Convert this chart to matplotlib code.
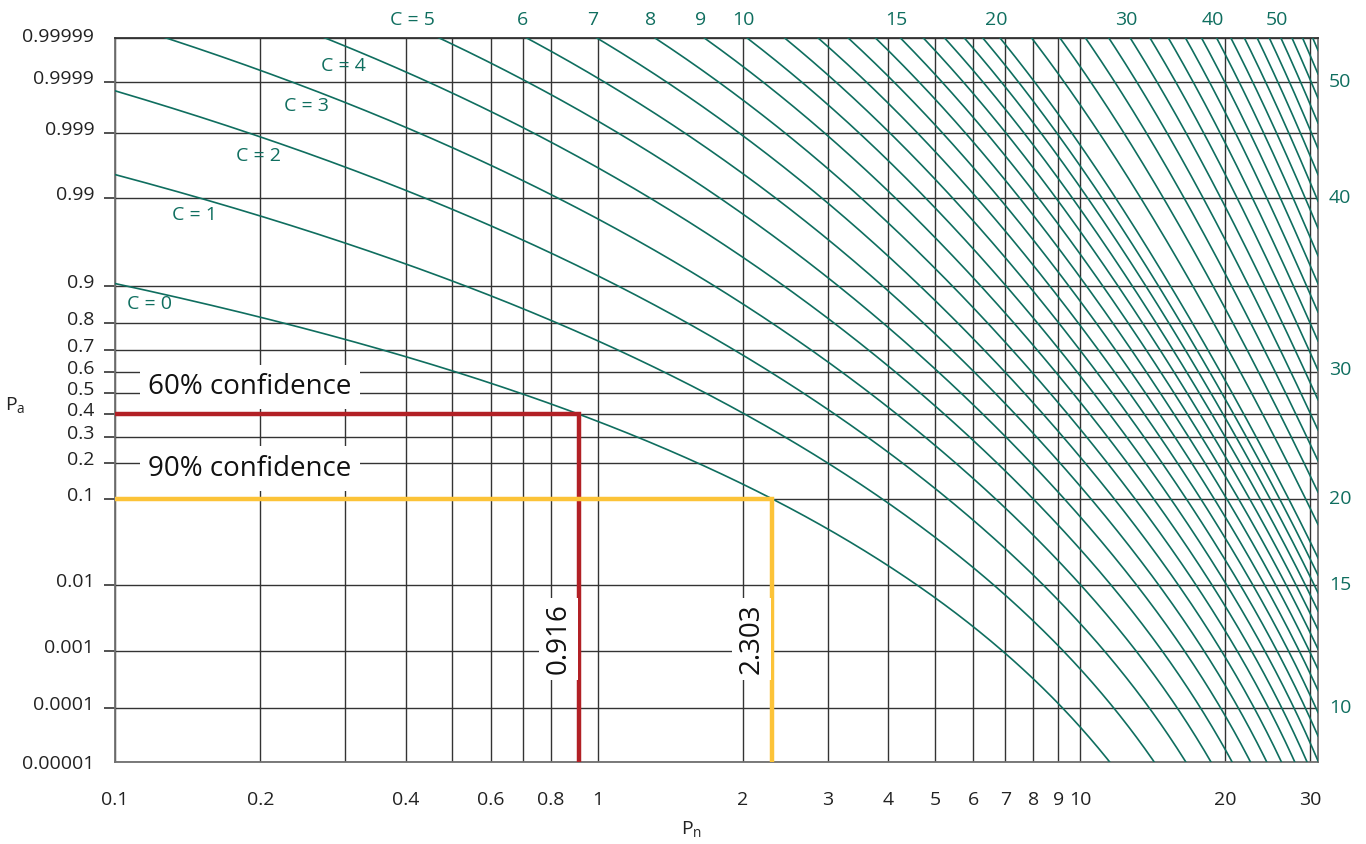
import math
import numpy as np
import matplotlib
matplotlib.use("Agg")
import matplotlib.pyplot as plt
import matplotlib.transforms as mtransforms
from matplotlib.ticker import FixedLocator, FixedFormatter, NullFormatter

plt.rcParams["font.family"] = ["Open Sans", "DejaVu Sans"]
plt.rcParams["mathtext.default"] = "regular"

# --- data ---
c_values = list(range(0, 21)) + list(range(22, 57, 2))  # acceptance numbers
pa_ticks = [0.00001, 0.0001, 0.001, 0.01, 0.1, 0.2, 0.3, 0.4, 0.5, 0.6, 0.7,
            0.8, 0.9, 0.99, 0.999, 0.9999, 0.99999]
pa_labels = ["0.00001", "0.0001", "0.001", "0.01", "0.1", "0.2", "0.3", "0.4",
             "0.5", "0.6", "0.7", "0.8", "0.9", "0.99", "0.999", "0.9999", "0.99999"]
pn_ticks = [0.1, 0.2, 0.4, 0.6, 0.8, 1, 2, 3, 4, 5, 6, 7, 8, 9, 10, 20, 30]
pn_labels = ["0.1", "0.2", "0.4", "0.6", "0.8", "1", "2", "3", "4", "5", "6",
             "7", "8", "9", "10", "20", "30"]
pn_grid = [0.1, 0.2, 0.3, 0.4, 0.5, 0.6, 0.7, 0.8, 1, 2, 3, 4, 5, 6, 7, 8,
           9, 10, 20, 30]
top_label_c = [5, 6, 7, 8, 9, 10, 15, 20, 30, 40, 50]
right_label_c = [10, 15, 20, 30, 40, 50]
right_label_pa = [0.0001, 0.01, 0.1, 0.61, 0.99, 0.9999]
confidence = [0.6, 0.9]
conf_pn = [0.916, 2.303]
conf_colors = ["#b22025", "#fcc338"]

TEAL = "#0f6e5f"
GRID = "#333333"

# --- probability axis: probit-like, smoothed to the printed grid spacing ---
_zt = np.linspace(-12, 0, 24001)
_lq = np.log(np.array([0.5 * math.erfc(-z / math.sqrt(2)) for z in _zt]))


def probit(p):
    p = np.clip(np.asarray(p, dtype=float), 1e-30, 1 - 1e-16)
    q = np.minimum(p, 1 - p)
    z = np.interp(np.log(q), _lq, _zt)
    return np.where(p > 0.5, -z, z)


def ncdf(z):
    z = np.asarray(z, dtype=float)
    return 0.5 * np.vectorize(math.erfc)(-z / math.sqrt(2))


# height of each grid line above the bottom spine in the printed chart
_grid_h = 762 - np.array([762, 707, 651, 587, 497, 462, 438, 414, 393, 372,
                          351, 323, 287, 196, 134, 83, 38], dtype=float)
_coef = np.polyfit(probit(pa_ticks), _grid_h, 5)
_tz = np.linspace(-4.6, 4.6, 4001)
_th = np.polyval(_coef, _tz)
_az = np.concatenate([[-14], _tz, [14]])
_av = np.concatenate([[_th[0] - 9.4 * 83.0], _th, [_th[-1] + 9.4 * 83.0]])


def y_fwd(p):
    return np.interp(probit(p), _az, _av)


def y_inv(v):
    return ncdf(np.interp(v, _av, _az))


def pois_cdf(c, lam):
    term = np.exp(-lam)
    s = term.copy()
    for k in range(1, c + 1):
        term = term * lam / k
        s = s + term
    return s


def lam_at(c, p):
    lo, hi = np.log(1e-3), np.log(200.0)
    for _ in range(80):
        mid = 0.5 * (lo + hi)
        if pois_cdf(c, np.array([np.exp(mid)]))[0] > p:
            lo = mid
        else:
            hi = mid
    return np.exp(0.5 * (lo + hi))


xmin, xmax = 0.1, 31.1
lam = np.logspace(np.log10(xmin), np.log10(xmax), 1500)

fig = plt.figure(figsize=(13.66, 8.44), dpi=100)
ax = fig.add_axes([115 / 1366, 82 / 844, 1203 / 1366, 724 / 844])
ax.set_xscale("log")
ax.set_yscale("function", functions=(y_fwd, y_inv))

for c in c_values:
    ax.plot(lam, pois_cdf(c, lam), color=TEAL, lw=1.2, zorder=3)

ax.set_xlim(xmin, xmax)
ax.set_ylim(pa_ticks[0], pa_ticks[-1])

# grid and ticks
ax.xaxis.set_major_locator(FixedLocator(pn_ticks))
ax.xaxis.set_major_formatter(FixedFormatter(pn_labels))
ax.xaxis.set_minor_locator(FixedLocator(pn_grid))
ax.xaxis.set_minor_formatter(NullFormatter())
ax.yaxis.set_major_locator(FixedLocator(pa_ticks))
ax.yaxis.set_major_formatter(FixedFormatter(pa_labels))
ax.yaxis.set_minor_locator(FixedLocator([]))
ax.tick_params(axis="x", which="both", length=0, pad=21, labelsize=14,
               labelcolor="#222222")
ax.tick_params(axis="y", which="major", length=8, width=1.1, color="#222222",
               pad=7, labelsize=14, labelcolor="#222222")
ax.grid(which="both", axis="x", color=GRID, lw=1.0, zorder=1)
ax.grid(which="major", axis="y", color=GRID, lw=1.0, zorder=1)
ax.set_axisbelow(True)
for side in ax.spines:
    ax.spines[side].set_color("#707070")
    ax.spines[side].set_linewidth(1.3)
ax.spines["top"].set_color(GRID)

ticks = ax.yaxis.get_major_ticks()
for i, t in enumerate(ticks):
    up = 0 if i == 0 else (3 if i == len(ticks) - 1 else 5)
    t.label1.set_transform(t.label1.get_transform()
                           + mtransforms.ScaledTranslation(0, up / 100, fig.dpi_scale_trans))
    if i in (0, len(ticks) - 1):
        t.tick1line.set_visible(False)

# confidence lines
for conf, pn, col in zip(confidence, conf_pn, conf_colors):
    pa = 1 - conf
    ax.plot([xmin, pn, pn], [pa, pa, pa_ticks[0]], color=col, lw=3.2,
            zorder=5, solid_joinstyle="miter")
    ax.annotate(f"{pn:.3f}", xy=(pn, 0.17), xycoords=("data", "axes fraction"),
                xytext=(-15, 0), textcoords="offset points", rotation=90,
                ha="center", va="center", fontsize=20, color="#111111",
                zorder=6,
                bbox=dict(boxstyle="square,pad=0.2", fc="white", ec="none"))

ax.text(0.112, 0.518, "60% confidence", transform=ax.transAxes, ha="center",
        va="center", fontsize=20, color="#111111", zorder=6,
        bbox=dict(boxstyle="square,pad=0.3", fc="white", ec="none"))
ax.text(0.112, 0.405, "90% confidence", transform=ax.transAxes, ha="center",
        va="center", fontsize=20, color="#111111", zorder=6,
        bbox=dict(boxstyle="square,pad=0.3", fc="white", ec="none"))

# curve labels, upper left
left_pos = [(0.029, 0.632), (0.066, 0.756), (0.119, 0.837), (0.159, 0.906),
            (0.19, 0.961)]
for c, (fx, fy) in zip(range(5), left_pos):
    ax.text(fx, fy, f"C = {c}", transform=ax.transAxes, ha="center",
            va="center", fontsize=14, color=TEAL)

# curve labels along the top, where each curve leaves the chart
top_tr = mtransforms.blended_transform_factory(ax.transData, ax.transAxes)
for c in top_label_c:
    x = lam_at(c, pa_ticks[-1])
    first = c == top_label_c[0]
    ax.annotate(f"C = {c}" if first else str(c), xy=(x, 1.0), xycoords=top_tr,
                xytext=(-3, 13), textcoords="offset points",
                ha="right" if first else "center", va="center", fontsize=14,
                color=TEAL, annotation_clip=False)

# labels on the right edge
right_tr = mtransforms.blended_transform_factory(ax.transAxes, ax.transData)
for c, pa in zip(right_label_c, right_label_pa):
    ax.annotate(str(c), xy=(1.0, pa), xycoords=right_tr, xytext=(8, 0),
                textcoords="offset points", ha="left", va="center",
                fontsize=14, color=TEAL, annotation_clip=False)

fig.text(15 / 1366, 1 - 405 / 844, "P$_a$", ha="center", va="center",
         fontsize=14, color="#222222")
fig.text(692 / 1366, 1 - 829 / 844, "P$_n$", ha="center", va="center",
         fontsize=14, color="#222222")

fig.savefig("out.png", dpi=100)
